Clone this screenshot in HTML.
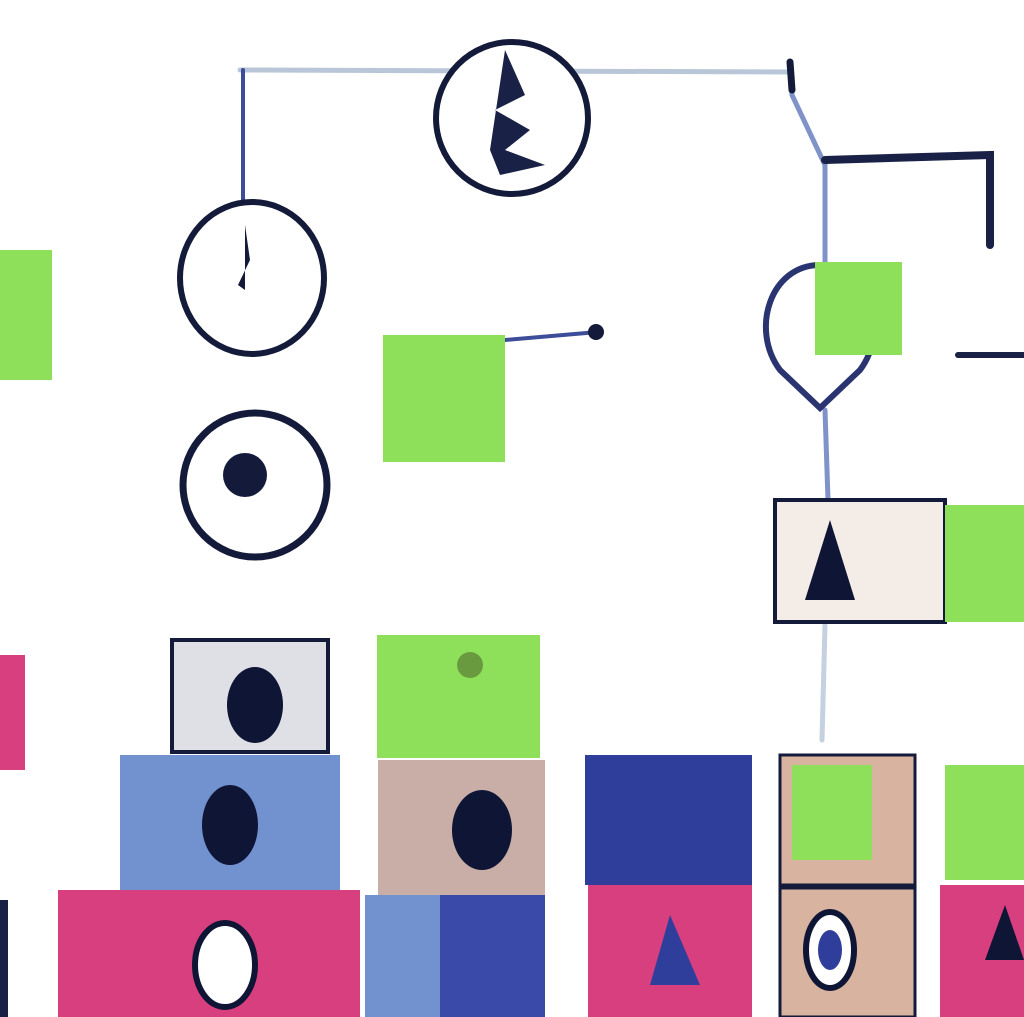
<!DOCTYPE html>
<html><head><meta charset="utf-8"><style>
html,body{margin:0;padding:0;background:#fff;width:1024px;height:1017px;overflow:hidden}
svg{display:block}
</style></head><body>
<svg width="1024" height="1017" viewBox="0 0 1024 1017">
<g fill="none" stroke-linecap="round">
<line x1="240" y1="70" x2="790" y2="72" stroke="#b9c6d8" stroke-width="5"/>
<line x1="243" y1="70" x2="243" y2="200" stroke="#3d4d9a" stroke-width="4"/>
<polyline points="790,62 792,95 825,165 825,265" stroke="#7f93c8" stroke-width="5"/>
<line x1="790" y1="62" x2="792" y2="90" stroke="#141a3a" stroke-width="7"/>
<polyline points="825,160 990,155 990,245" stroke="#1a2146" stroke-width="8"/>
<line x1="505" y1="340" x2="598" y2="332" stroke="#3d4d9a" stroke-width="4"/>
<circle cx="596" cy="332" r="8" fill="#141a3a"/>
<line x1="825" y1="410" x2="828" y2="500" stroke="#7f93c8" stroke-width="5"/>
<line x1="825" y1="625" x2="822" y2="740" stroke="#c5d0e0" stroke-width="5"/>
<line x1="958" y1="355" x2="1024" y2="355" stroke="#1a2146" stroke-width="6"/>
</g>
<g>
<circle cx="512" cy="118" r="76" fill="#fff" stroke="#141a3a" stroke-width="6"/>
<path d="M505 50 L525 95 L495 110 L530 130 L505 150 L545 165 L500 175 L490 150 Z" fill="#1a2146"/>
</g>
<g>
<ellipse cx="252" cy="278" rx="72" ry="76" fill="#fff" stroke="#141a3a" stroke-width="6"/>
<path d="M245 225 L250 260 L238 285 L245 290 Z" fill="#141a3a"/>
</g>
<g>
<circle cx="255" cy="485" r="72" fill="#fff" stroke="#141a3a" stroke-width="7"/>
<circle cx="245" cy="475" r="22" fill="#141a3a"/>
</g>
<rect x="0" y="250" width="52" height="130" fill="#8ee05a"/>
<rect x="383" y="335" width="122" height="127" fill="#8ee05a"/>
<g>
<path d="M820 265 C770 265 750 330 780 370 L820 408 L860 370 C890 330 870 265 820 265 Z" fill="#fff" stroke="#2a3470" stroke-width="6"/>
<rect x="815" y="262" width="87" height="93" fill="#8ee05a"/>
</g>
<g>
<rect x="775" y="500" width="170" height="122" fill="#f4ece6" stroke="#141a3a" stroke-width="4"/>
<path d="M805 600 L830 520 L855 600 Z" fill="#0f1535"/>
<rect x="945" y="505" width="79" height="117" fill="#8ee05a"/>
</g>
<g>
<rect x="0" y="655" width="25" height="115" fill="#d83f7e"/>
<rect x="172" y="640" width="156" height="112" fill="#dfe0e6" stroke="#141a3a" stroke-width="4"/>
<ellipse cx="255" cy="705" rx="28" ry="38" fill="#0f1535"/>
<rect x="377" y="635" width="163" height="123" fill="#8ee05a"/>
<circle cx="470" cy="665" r="13" fill="#6a9a40"/>
<rect x="120" y="755" width="220" height="135" fill="#7291cf"/>
<ellipse cx="230" cy="825" rx="28" ry="40" fill="#0f1535"/>
<rect x="378" y="760" width="167" height="135" fill="#c9aea8"/>
<ellipse cx="482" cy="830" rx="30" ry="40" fill="#0f1535"/>
<rect x="585" y="755" width="167" height="130" fill="#2f3e9a"/>
<rect x="780" y="755" width="135" height="130" fill="#d8b4a0" stroke="#141a3a" stroke-width="3"/>
<rect x="792" y="765" width="80" height="95" fill="#8ee05a"/>
<rect x="945" y="765" width="79" height="115" fill="#8ee05a"/>
<rect x="58" y="890" width="302" height="127" fill="#d83f7e"/>
<ellipse cx="225" cy="965" rx="30" ry="42" fill="#fff" stroke="#0f1535" stroke-width="6"/>
<rect x="365" y="895" width="180" height="122" fill="#7291cf"/>
<rect x="440" y="895" width="105" height="122" fill="#3a4aa8"/>
<rect x="588" y="885" width="164" height="132" fill="#d83f7e"/>
<path d="M650 985 L670 915 L700 985 Z" fill="#2f3e9a"/>
<rect x="780" y="888" width="135" height="129" fill="#d8b4a0" stroke="#141a3a" stroke-width="3"/>
<ellipse cx="830" cy="950" rx="24" ry="38" fill="#fff" stroke="#0f1535" stroke-width="6"/>
<ellipse cx="830" cy="950" rx="12" ry="20" fill="#2f3e9a"/>
<rect x="940" y="885" width="84" height="132" fill="#d83f7e"/>
<path d="M985 960 L1005 905 L1024 960 Z" fill="#0f1535"/>
<rect x="0" y="900" width="8" height="117" fill="#1a2146"/>
</g>
</svg>
</body></html>
